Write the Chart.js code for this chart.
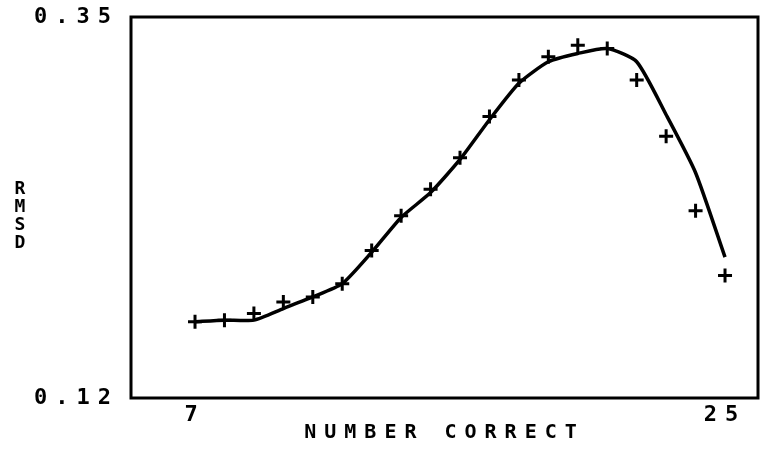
<!DOCTYPE html>
<html>
<head>
<meta charset="utf-8">
<script src="https://cdn.jsdelivr.net/npm/chart.js@4"></script>
<style>
  html, body { margin: 0; padding: 0; background: #fff; overflow: hidden; }
  #wrap { position: relative; width: 760px; height: 452px; overflow: hidden; }
  #chart { position: absolute; left: 0; top: 0; }
  #ylab {
    position: absolute; left: 11px; top: 179px; width: 18px;
    font: bold 18px "DejaVu Sans Mono", monospace;
    line-height: 18px; text-align: center; color: #000;
  }
</style>
</head>
<body>
<div id="wrap">
  <canvas id="chart" width="768" height="452"></canvas>
  <div id="ylab">R<br>M<br>S<br>D</div>
</div>
<script>
// observed points (crosses)
const numberCorrect = [7, 8, 9, 10, 11, 12, 13, 14, 15, 16, 17, 18, 19, 20, 21, 22, 23, 24, 25];
const rmsdObserved = [0.166, 0.167, 0.171, 0.178, 0.181, 0.189, 0.209, 0.230, 0.246, 0.265,
                      0.290, 0.312, 0.326, 0.333, 0.331, 0.312, 0.278, 0.233, 0.194];
// fitted curve
const rmsdFitted = [0.166, 0.167, 0.167, 0.174, 0.181, 0.189, 0.208, 0.229, 0.244, 0.264,
                    0.288, 0.310, 0.323, 0.328, 0.331, 0.323, 0.291, 0.256, 0.205];
const xTicks = [7, 25];
const yTicks = [0.12, 0.35];

const FONT = '"DejaVu Sans Mono", monospace';

const spacing = {
  id: 'spacing',
  beforeLayout(chart) { chart.ctx.letterSpacing = '8px'; },
  beforeDraw(chart) { chart.ctx.letterSpacing = '8px'; }
};

const frame = {
  id: 'frame',
  afterDraw(chart) {
    const { ctx, chartArea: a } = chart;
    ctx.save();
    ctx.strokeStyle = '#000';
    ctx.lineWidth = 3;
    ctx.strokeRect(a.left, a.top, a.right - a.left, a.bottom - a.top);
    ctx.restore();
  }
};

new Chart(document.getElementById('chart').getContext('2d'), {
  type: 'scatter',
  data: {
    datasets: [
      {
        type: 'line',
        data: numberCorrect.map((x, i) => ({ x: x, y: rmsdFitted[i] })),
        borderColor: '#000',
        borderWidth: 3.5,
        pointRadius: 0,
        tension: 0.2,
        fill: false
      },
      {
        data: numberCorrect.map((x, i) => ({ x: x, y: rmsdObserved[i] })),
        pointStyle: 'cross',
        pointRadius: 7,
        borderColor: '#000',
        borderWidth: 3,
        showLine: false
      }
    ]
  },
  options: {
    responsive: false,
    animation: false,
    layout: { padding: { top: 17, right: 2, left: 0, bottom: 0 } },
    plugins: { legend: { display: false }, tooltip: { enabled: false } },
    scales: {
      x: {
        type: 'linear',
        min: 4.826,
        max: 26.12,
        afterBuildTicks: s => { s.ticks = xTicks.map(v => ({ value: v })); },
        afterFit: s => { s.height = 54; s.paddingLeft = 0; s.paddingRight = 0; },
        grid: { display: false, drawTicks: false },
        border: { display: false },
        ticks: { color: '#000', padding: 4, font: { family: FONT, size: 22, weight: 'bold' } },
        title: {
          display: true, text: 'NUMBER CORRECT', color: '#000',
          padding: { top: 0, bottom: 7 },
          font: { family: FONT, size: 20, weight: 'bold' }
        }
      },
      y: {
        min: 0.12,
        max: 0.35,
        afterBuildTicks: s => { s.ticks = yTicks.map(v => ({ value: v })); },
        afterFit: s => { s.width = 131; s.paddingTop = 0; s.paddingBottom = 0; },
        grid: { display: false, drawTicks: false },
        border: { display: false },
        ticks: {
          color: '#000', padding: 12,
          font: { family: FONT, size: 22, weight: 'bold' },
          callback: v => v.toFixed(2)
        }
      }
    }
  },
  plugins: [spacing, frame]
});
</script>
</body>
</html>
